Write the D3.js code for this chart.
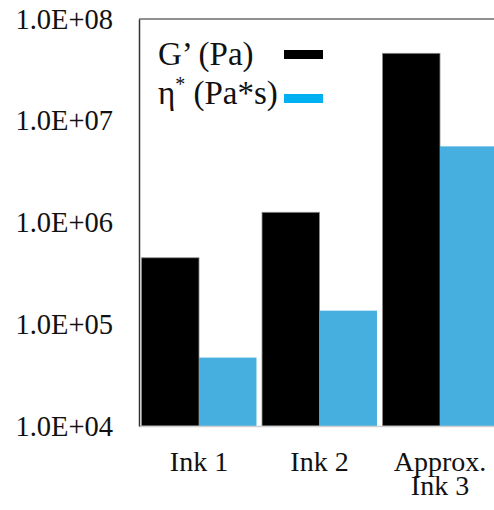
<!DOCTYPE html>
<html>
<head>
<meta charset="utf-8">
<script src="https://cdn.jsdelivr.net/npm/d3@7"></script>
<style>
  html, body { margin: 0; padding: 0; background: #fff; }
  svg { display: block; }
</style>
</head>
<body>
<svg id="chart" width="494" height="510"></svg>
<script>
// Rheology of the inks: storage modulus and complex viscosity
const categories = [["Ink 1"], ["Ink 2"], ["Approx.", "Ink 3"]];
const seriesNames = ["G’ (Pa)", "η* (Pa*s)"];
const storageModulus = [4.5e5, 1.26e6, 4.6e7];      // G' (Pa)
const complexViscosity = [4.7e4, 1.36e5, 5.6e6];    // η* (Pa*s)
const tickValues = [1e4, 1e5, 1e6, 1e7, 1e8];
const tickLabels = ["1.0E+04", "1.0E+05", "1.0E+06", "1.0E+07", "1.0E+08"];

const barColors = ["#000000", "#47afdf"];
const legendColors = ["#000000", "#00b0f0"];
const serif = "Liberation Serif, Tinos, Times New Roman, DejaVu Serif, serif";

const svg = d3.select("#chart").attr("font-family", serif);
const plotLeft = 139, plotRight = 500, plotTop = 19, plotBottom = 426;

const groups = categories.map(c => c.join(" "));
const x0 = d3.scaleBand().domain(groups).range([plotLeft, plotRight])
  .paddingInner(0.046).paddingOuter(0.021);
const x1 = d3.scaleBand().domain(seriesNames).range([0, x0.bandwidth()]);
const y = d3.scaleLog().domain([1e4, 1e8]).range([plotBottom, plotTop]);

const rows = groups.map((g, i) => ({
  group: g,
  values: [storageModulus[i], complexViscosity[i]]
}));

// bars
const gBars = svg.append("g");
rows.forEach(r => {
  r.values.forEach((v, j) => {
    gBars.append("rect")
      .attr("x", x0(r.group) + x1(seriesNames[j]))
      .attr("y", y(v))
      .attr("width", x1.bandwidth())
      .attr("height", y(1e4) - y(v))
      .attr("fill", barColors[j])
      .attr("stroke", j === 0 ? "#8a8a8a" : "none")
      .attr("stroke-width", j === 0 ? 0.8 : 0);
  });
});

// frame: bottom baseline, top border, left axis line
svg.append("line").attr("x1", plotLeft).attr("x2", 494).attr("y1", plotBottom + 0.5).attr("y2", plotBottom + 0.5)
  .attr("stroke", "#d0d0d0").attr("stroke-width", 1.5);
svg.append("line").attr("x1", plotLeft).attr("x2", 494).attr("y1", plotTop).attr("y2", plotTop)
  .attr("stroke", "#222").attr("stroke-width", 1.2);

const yAxis = d3.axisLeft(y).tickValues(tickValues)
  .tickFormat((d, i) => tickLabels[i]).tickSize(0).tickPadding(26);
const gy = svg.append("g").attr("transform", `translate(${plotLeft},0)`).call(yAxis)
  .attr("font-family", serif).attr("font-size", 28.5);
gy.select(".domain").attr("stroke", "#333").attr("stroke-width", 1.5);
gy.selectAll("text").attr("fill", "#111");

// category labels
const xAxis = d3.axisBottom(x0).tickSize(0).tickFormat("");
const gx = svg.append("g").attr("transform", `translate(0,${plotBottom})`).call(xAxis)
  .attr("font-family", serif).attr("font-size", 28);
gx.select(".domain").remove();
gx.selectAll(".tick").each(function(d, i) {
  const t = d3.select(this).append("text")
    .attr("text-anchor", "middle")
    .attr("fill", "#111");
  categories[i].forEach((line, k) => {
    t.append("tspan").attr("x", 0).attr("y", 45 + k * 24).text(line);
  });
});

// legend
const legend = svg.append("g").attr("font-family", serif).attr("font-size", 33).attr("fill", "#111");
legend.append("text").attr("x", 158).attr("y", 65).text("G’ (Pa)");
const lg2 = legend.append("text").attr("x", 158).attr("y", 104);
lg2.append("tspan").text("η");
lg2.append("tspan").attr("dy", -13).attr("font-size", 20).text("*");
lg2.append("tspan").attr("dy", 13).text(" (Pa*s)");
[50, 94].forEach((yy, j) => {
  legend.append("rect").attr("x", 284).attr("y", yy).attr("width", 39).attr("height", 9)
    .attr("fill", legendColors[j]);
});
</script>
</body>
</html>
